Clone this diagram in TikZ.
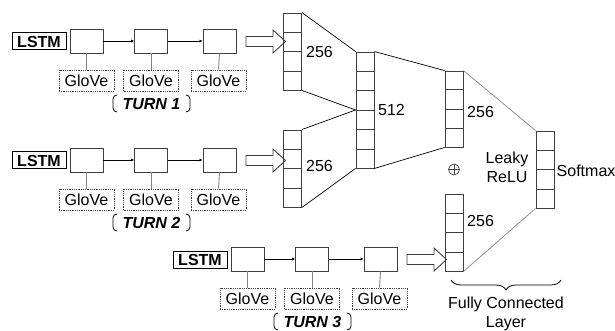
\documentclass[tikz,border=0pt]{standalone}
\usepackage{fontspec}
\setmainfont{Liberation Sans}
\usetikzlibrary{calc,decorations.pathreplacing,arrows.meta}
\definecolor{edgec}{HTML}{404040}
\definecolor{softc}{HTML}{858585}
\newcommand\basefont{\fontsize{16}{19}\selectfont}
\tikzset{
 lstmbox/.style={draw=black, line width=1pt, minimum width=54pt, minimum height=17pt, inner sep=0pt, font=\basefont\bfseries},
 cellbox/.style={draw=edgec, line width=0.9pt, minimum width=33pt, minimum height=24pt, inner sep=0pt},
 glovebox/.style={draw=edgec, densely dotted, line width=0.8pt, minimum width=55pt, minimum height=21pt, inner sep=0pt},
 feed/.style={draw=softc, line width=0.9pt},
 chain/.style={draw=black, line width=0.8pt, -{Latex[length=3pt,width=3pt]}},
 stackbox/.style={draw=edgec, line width=0.9pt, minimum width=18pt, inner sep=0pt},
 divider/.style={draw=edgec, line width=0.9pt},
 lbl/.style={inner sep=0pt, anchor=west},
 link/.style={draw=black, line width=0.7pt},
 softlink/.style={draw=softc, line width=0.7pt},
 fatarrow/.style={draw=edgec, line width=0.9pt, fill=white},
 turnlbl/.style={font=\basefont\bfseries\itshape, inner sep=0pt},
 bracketline/.style={draw=black, line width=0.8pt},
 oplusmark/.style={circle, draw=edgec, line width=0.7pt, minimum size=11pt, inner sep=0pt,
   path picture={\draw[edgec, line width=0.7pt] (path picture bounding box.north) -- (path picture bounding box.south)
     (path picture bounding box.west) -- (path picture bounding box.east);}},
}
\newcommand\cellstack[5]{%
  \node[stackbox, minimum height=#5pt] (#1) at (#2,#3) {};
  \foreach \f in {#4}{%
    \draw[divider] ($(#1.north west)!\f!(#1.south west)$) -- ($(#1.north east)!\f!(#1.south east)$);
  }%
}
\newcommand\turnrow[3]{%
\begin{scope}[shift={(#1,#2)}]
  \node[lstmbox] (lstm#3) at (39,41.5) {LSTM};
  \node[cellbox] (c#3a) at (86.5,41) {};
  \node[cellbox] (c#3b) at (151,41) {};
  \node[cellbox] (c#3c) at (219.5,41) {};
  \node[glovebox] (g#3a) at (86.5,80.5) {GloVe};
  \node[glovebox] (g#3b) at (151,80.5) {GloVe};
  \node[glovebox] (g#3c) at (218.5,80.5) {GloVe};
  \draw[feed] (c#3a.south) -- (g#3a.north);
  \draw[feed] (c#3b.south) -- (g#3b.north);
  \draw[feed] (c#3c.south) -- (g#3c.north);
  \draw[chain] (c#3a.east) -- (c#3b.west);
  \draw[chain] (c#3b.east) -- (c#3c.west);
  \node[turnlbl] (t#3) at (151.5,104) {TURN #3};
  \draw[bracketline] (117,95) to[out=180,in=90] (113,99) -- (113,108) to[out=-90,in=180] (117,112);
  \draw[bracketline] (186,95) to[out=0,in=90] (190,99) -- (190,108) to[out=-90,in=0] (186,112);
  \draw[fatarrow] (246,36.5) -- (273,36.5) -- (273,30) -- (285.5,41.5) -- (273,53) -- (273,46.5) -- (246,46.5) -- cycle;
\end{scope}}
\begin{document}
\begin{tikzpicture}[x=1pt,y=-1pt,font=\basefont]
\useasboundingbox (0,0) rectangle (615,331);
\turnrow{0}{0}{1}
\turnrow{0}{119}{2}
\turnrow{161}{218}{3}
% stacks
\cellstack{sA}{292.5}{51.5}{0.25,0.5,0.75}{77}
\cellstack{sB}{292.5}{168.5}{0.25,0.5,0.75}{77}
\cellstack{sM}{365}{110}{0.1667,0.3333,0.5,0.6667,0.8333}{116}
\cellstack{sC}{454}{109}{0.25,0.5,0.75}{76}
\cellstack{sD}{454}{232.5}{0.25,0.5,0.75}{77}
\cellstack{sS}{545}{169.5}{0.25,0.5,0.75}{77}
% labels
\node[lbl] (lA) at (306,52) {256};
\node[lbl] (lB) at (306,166) {256};
\node[lbl] (lM) at (378,110) {512};
\node[lbl] (lC) at (467,112) {256};
\node[lbl] (lD) at (467,221) {256};
\node[lbl] (lS) at (556.5,171) {Softmax};
\node[align=center, inner sep=0pt] (relu) at (507,167.5) {Leaky\\ReLU};
\node[oplusmark] (plus) at (454,169.5) {};
% links
\draw[link] (sA.north east) -- (sM.north west);
\draw[link] (sA.south east) -- (sM.west);
\draw[link] (sB.north east) -- (sM.west);
\draw[link] (sB.south east) -- (sM.south west);
\draw[link] (sM.north east) -- (sC.north west);
\draw[link] (sM.south east) -- (sC.south west);
\draw[softlink] (sC.north east) -- (sS.north west);
\draw[softlink] (sD.south east) -- (sS.south west);
% brace
\coordinate (bl) at (451,280);
\coordinate (br) at (561,280);
\draw[black, line width=0.8pt, decorate, decoration={brace, amplitude=10pt, mirror}] (bl) -- (br);
\node[align=center, inner sep=0pt] (fcl) at (506,314) {Fully Connected\\Layer};
\end{tikzpicture}
\end{document}
